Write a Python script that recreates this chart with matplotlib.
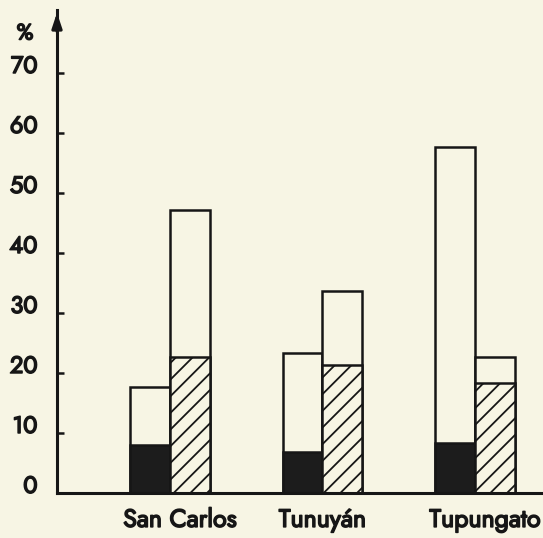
import matplotlib.pyplot as plt
import matplotlib.transforms as mtransforms
import matplotlib.patheffects as pe

# share of each department (%)
departments = ['San Carlos', 'Tunuyán', 'Tupungato']
left_total = [17.7, 23.3, 57.7]
left_dark = [8.0, 6.8, 8.3]
right_total = [47.2, 33.7, 22.7]
right_hatched = [22.7, 21.3, 18.3]
yticks = [0, 10, 20, 30, 40, 50, 60, 70]

plt.rcParams['font.family'] = ['Jost', 'Didact Gothic', 'DejaVu Sans']
plt.rcParams['hatch.linewidth'] = 1.3

paper = '#f7f5e4'
ink = '#161616'
heavy = [pe.withStroke(linewidth=1.1, foreground=ink)]

fig = plt.figure(figsize=(5.43, 5.38), dpi=100, facecolor=paper)
ax = fig.add_axes([57 / 543, 45 / 538, 486 / 543, 483 / 538])
ax.set_facecolor(paper)

x = list(range(len(departments)))
w = 0.262
xl = [i - w / 2 for i in x]
xr = [i + w / 2 for i in x]

# left bar: dark base with open top
ax.bar(xl, left_total, width=w, color=paper, edgecolor=ink, linewidth=1.8)
ax.bar(xl, left_dark, width=w, color='#1c1c1c', edgecolor=ink, linewidth=1.8)
# right bar: hatched base with open top
ax.bar(xr, right_total, width=w, color=paper, edgecolor=ink, linewidth=1.8)
ax.bar(xr, right_hatched, width=w, color=paper, edgecolor=ink, linewidth=1.8, hatch='//')

ax.set_xlim(-0.741, 2.446)
ax.set_ylim(0, 80.5)

for s in ['top', 'right']:
    ax.spines[s].set_visible(False)
for s in ['left', 'bottom']:
    ax.spines[s].set_linewidth(2.2)
    ax.spines[s].set_color(ink)

# arrow head on the vertical axis
ax.annotate('', xy=(0, 1.0), xytext=(0, 0.95), xycoords='axes fraction',
            arrowprops=dict(arrowstyle='-|>,head_width=0.3,head_length=0.9',
                            color=ink, lw=2.2))

ax.set_yticks(yticks)
ax.set_yticklabels([str(v) for v in yticks], fontsize=17, color=ink)
ax.tick_params(axis='y', direction='in', length=5, width=1.8, color=ink, pad=14)
shift = mtransforms.ScaledTranslation(0, 6.5 / 72, fig.dpi_scale_trans)
for lab in ax.get_yticklabels():
    lab.set_transform(lab.get_transform() + shift)
    lab.set_path_effects(heavy)

ax.set_xticks(x)
ax.set_xticklabels(departments, fontsize=18, color=ink)
ax.tick_params(axis='x', length=0, pad=10)
# names sit a little right of their bar pairs
for lab, dx in zip(ax.get_xticklabels(), [10, 0, 10]):
    lab.set_transform(lab.get_transform() +
                      mtransforms.ScaledTranslation(dx / 100, 0, fig.dpi_scale_trans))
    lab.set_path_effects(heavy)

fig.text(25 / 543, 1 - 33 / 538, '%', fontsize=16, color=ink,
         ha='center', va='center', path_effects=heavy)

fig.savefig('out.png', dpi=100, facecolor=paper)
